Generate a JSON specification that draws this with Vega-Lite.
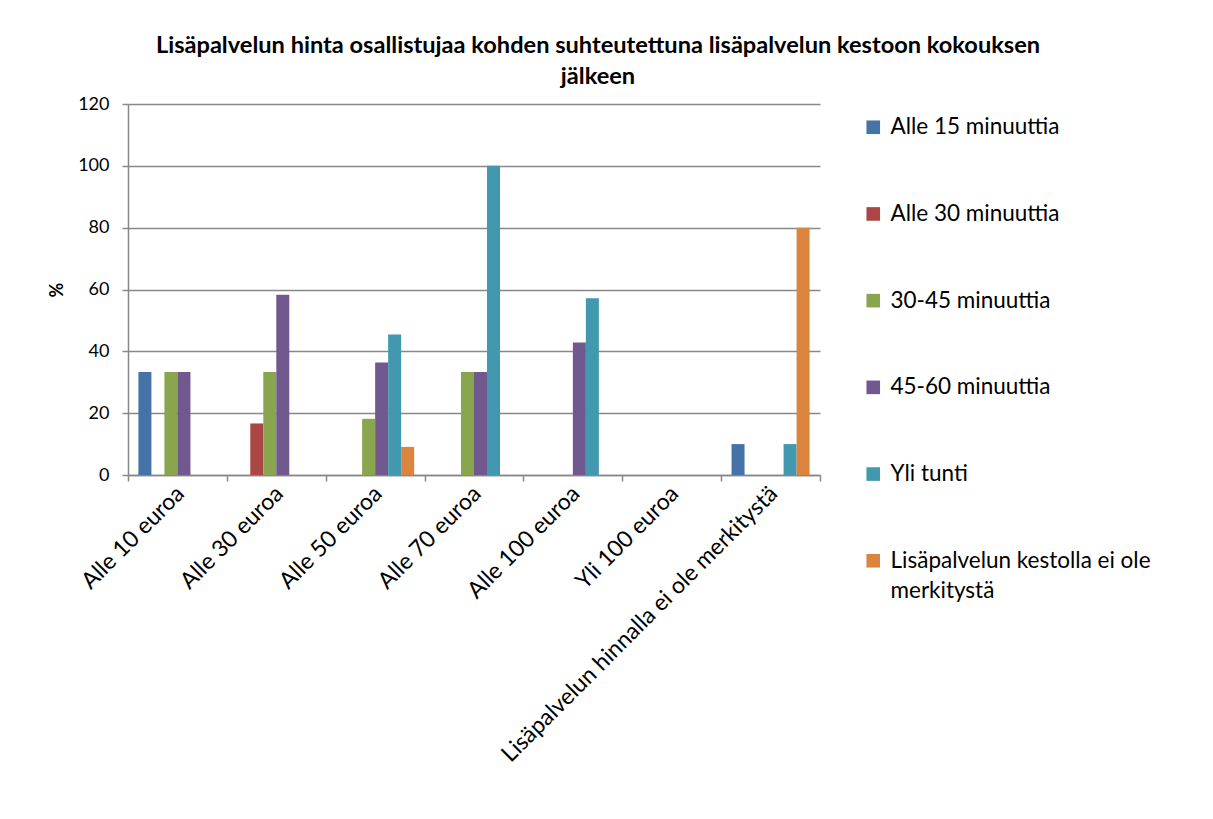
{
  "$schema": "https://vega.github.io/schema/vega-lite/v6.json",
  "width": 692,
  "height": 371,
  "autosize": {"type": "none"},
  "padding": {"left": 128, "top": 104, "right": 393, "bottom": 344},
  "background": "white",
  "title": {
    "text": ["Lisäpalvelun hinta osallistujaa kohden suhteutettuna lisäpalvelun kestoon kokouksen", "jälkeen"],
    "font": "Lato",
    "fontSize": 23.6,
    "fontWeight": "bold",
    "color": "black",
    "anchor": "middle",
    "frame": "group",
    "dx": 124,
    "offset": 6,
    "lineHeight": 31
  },
  "data": {
    "values": [
      {"category": "Alle 10 euroa", "series": "Alle 15 minuuttia", "value": 33.33},
      {"category": "Alle 10 euroa", "series": "Alle 30 minuuttia", "value": 0},
      {"category": "Alle 10 euroa", "series": "30-45 minuuttia", "value": 33.33},
      {"category": "Alle 10 euroa", "series": "45-60 minuuttia", "value": 33.33},
      {"category": "Alle 10 euroa", "series": "Yli tunti", "value": 0},
      {"category": "Alle 10 euroa", "series": "Lisäpalvelun kestolla ei ole merkitystä", "value": 0},
      {"category": "Alle 30 euroa", "series": "Alle 15 minuuttia", "value": 0},
      {"category": "Alle 30 euroa", "series": "Alle 30 minuuttia", "value": 16.67},
      {"category": "Alle 30 euroa", "series": "30-45 minuuttia", "value": 33.33},
      {"category": "Alle 30 euroa", "series": "45-60 minuuttia", "value": 58.33},
      {"category": "Alle 30 euroa", "series": "Yli tunti", "value": 0},
      {"category": "Alle 30 euroa", "series": "Lisäpalvelun kestolla ei ole merkitystä", "value": 0},
      {"category": "Alle 50 euroa", "series": "Alle 15 minuuttia", "value": 0},
      {"category": "Alle 50 euroa", "series": "Alle 30 minuuttia", "value": 0},
      {"category": "Alle 50 euroa", "series": "30-45 minuuttia", "value": 18.18},
      {"category": "Alle 50 euroa", "series": "45-60 minuuttia", "value": 36.36},
      {"category": "Alle 50 euroa", "series": "Yli tunti", "value": 45.45},
      {"category": "Alle 50 euroa", "series": "Lisäpalvelun kestolla ei ole merkitystä", "value": 9.09},
      {"category": "Alle 70 euroa", "series": "Alle 15 minuuttia", "value": 0},
      {"category": "Alle 70 euroa", "series": "Alle 30 minuuttia", "value": 0},
      {"category": "Alle 70 euroa", "series": "30-45 minuuttia", "value": 33.33},
      {"category": "Alle 70 euroa", "series": "45-60 minuuttia", "value": 33.33},
      {"category": "Alle 70 euroa", "series": "Yli tunti", "value": 100},
      {"category": "Alle 70 euroa", "series": "Lisäpalvelun kestolla ei ole merkitystä", "value": 0},
      {"category": "Alle 100 euroa", "series": "Alle 15 minuuttia", "value": 0},
      {"category": "Alle 100 euroa", "series": "Alle 30 minuuttia", "value": 0},
      {"category": "Alle 100 euroa", "series": "30-45 minuuttia", "value": 0},
      {"category": "Alle 100 euroa", "series": "45-60 minuuttia", "value": 42.86},
      {"category": "Alle 100 euroa", "series": "Yli tunti", "value": 57.14},
      {"category": "Alle 100 euroa", "series": "Lisäpalvelun kestolla ei ole merkitystä", "value": 0},
      {"category": "Yli 100 euroa", "series": "Alle 15 minuuttia", "value": 0},
      {"category": "Yli 100 euroa", "series": "Alle 30 minuuttia", "value": 0},
      {"category": "Yli 100 euroa", "series": "30-45 minuuttia", "value": 0},
      {"category": "Yli 100 euroa", "series": "45-60 minuuttia", "value": 0},
      {"category": "Yli 100 euroa", "series": "Yli tunti", "value": 0},
      {"category": "Yli 100 euroa", "series": "Lisäpalvelun kestolla ei ole merkitystä", "value": 0},
      {"category": "Lisäpalvelun hinnalla ei ole merkitystä", "series": "Alle 15 minuuttia", "value": 10},
      {"category": "Lisäpalvelun hinnalla ei ole merkitystä", "series": "Alle 30 minuuttia", "value": 0},
      {"category": "Lisäpalvelun hinnalla ei ole merkitystä", "series": "30-45 minuuttia", "value": 0},
      {"category": "Lisäpalvelun hinnalla ei ole merkitystä", "series": "45-60 minuuttia", "value": 0},
      {"category": "Lisäpalvelun hinnalla ei ole merkitystä", "series": "Yli tunti", "value": 10},
      {"category": "Lisäpalvelun hinnalla ei ole merkitystä", "series": "Lisäpalvelun kestolla ei ole merkitystä", "value": 80}
    ]
  },
  "mark": {"type": "bar"},
  "encoding": {
    "x": {
      "field": "category",
      "type": "nominal",
      "sort": null,
      "scale": {
        "domain": ["Alle 10 euroa", "Alle 30 euroa", "Alle 50 euroa", "Alle 70 euroa", "Alle 100 euroa", "Yli 100 euroa", "Lisäpalvelun hinnalla ei ole merkitystä"],
        "paddingInner": 0,
        "paddingOuter": 0
      },
      "axis": {
        "title": null,
        "labelAngle": -45,
        "labelFont": "Lato",
        "labelFontSize": 23,
        "labelColor": "black",
        "labelLimit": 600,
        "labelPadding": 1,
        "labelOffset": -5,
        "tickBand": "extent",
        "tickSize": 6,
        "tickColor": "#888888",
        "tickWidth": 1.5,
        "domainColor": "#888888",
        "domainWidth": 1.5,
        "grid": false
      }
    },
    "xOffset": {
      "field": "series",
      "type": "nominal",
      "sort": null,
      "scale": {
        "domain": ["Alle 15 minuuttia", "Alle 30 minuuttia", "30-45 minuuttia", "45-60 minuuttia", "Yli tunti", "Lisäpalvelun kestolla ei ole merkitystä"],
        "paddingInner": 0,
        "paddingOuter": 0.8
      }
    },
    "y": {
      "field": "value",
      "type": "quantitative",
      "scale": {"domain": [0, 120], "nice": false},
      "axis": {
        "title": "%",
        "titleFont": "Lato",
        "titleFontSize": 18,
        "titleFontWeight": "bold",
        "titleColor": "black",
        "titlePadding": 11,
        "values": [0, 20, 40, 60, 80, 100, 120],
        "labelFont": "Lato",
        "labelFontSize": 18,
        "labelColor": "black",
        "labelPadding": 13,
        "tickSize": 6,
        "tickColor": "#888888",
        "tickWidth": 1.5,
        "domainColor": "#888888",
        "domainWidth": 1.5,
        "grid": true,
        "gridColor": "#888888",
        "gridWidth": 1.5
      }
    },
    "color": {
      "field": "series",
      "type": "nominal",
      "sort": null,
      "scale": {
        "domain": ["Alle 15 minuuttia", "Alle 30 minuuttia", "30-45 minuuttia", "45-60 minuuttia", "Yli tunti", "Lisäpalvelun kestolla ei ole merkitystä"],
        "range": ["#4572A7", "#AA4643", "#89A54E", "#71588F", "#4198AF", "#DB843D"]
      },
      "legend": {
        "title": null,
        "orient": "right",
        "offset": 30,
        "padding": 12,
        "symbolType": "square",
        "symbolSize": 185,
        "symbolStrokeWidth": 0,
        "labelFont": "Lato",
        "labelFontSize": 22.5,
        "labelColor": "black",
        "labelLimit": 400,
        "labelOffset": 6,
        "rowPadding": 63.7,
        "labelExpr": "datum.label == 'Lisäpalvelun kestolla ei ole merkitystä' ? ['Lisäpalvelun kestolla ei ole', 'merkitystä'] : datum.label"
      }
    }
  },
  "config": {
    "view": {"stroke": null},
    "style": {"guide-label": {"lineHeight": 30}}
  }
}
